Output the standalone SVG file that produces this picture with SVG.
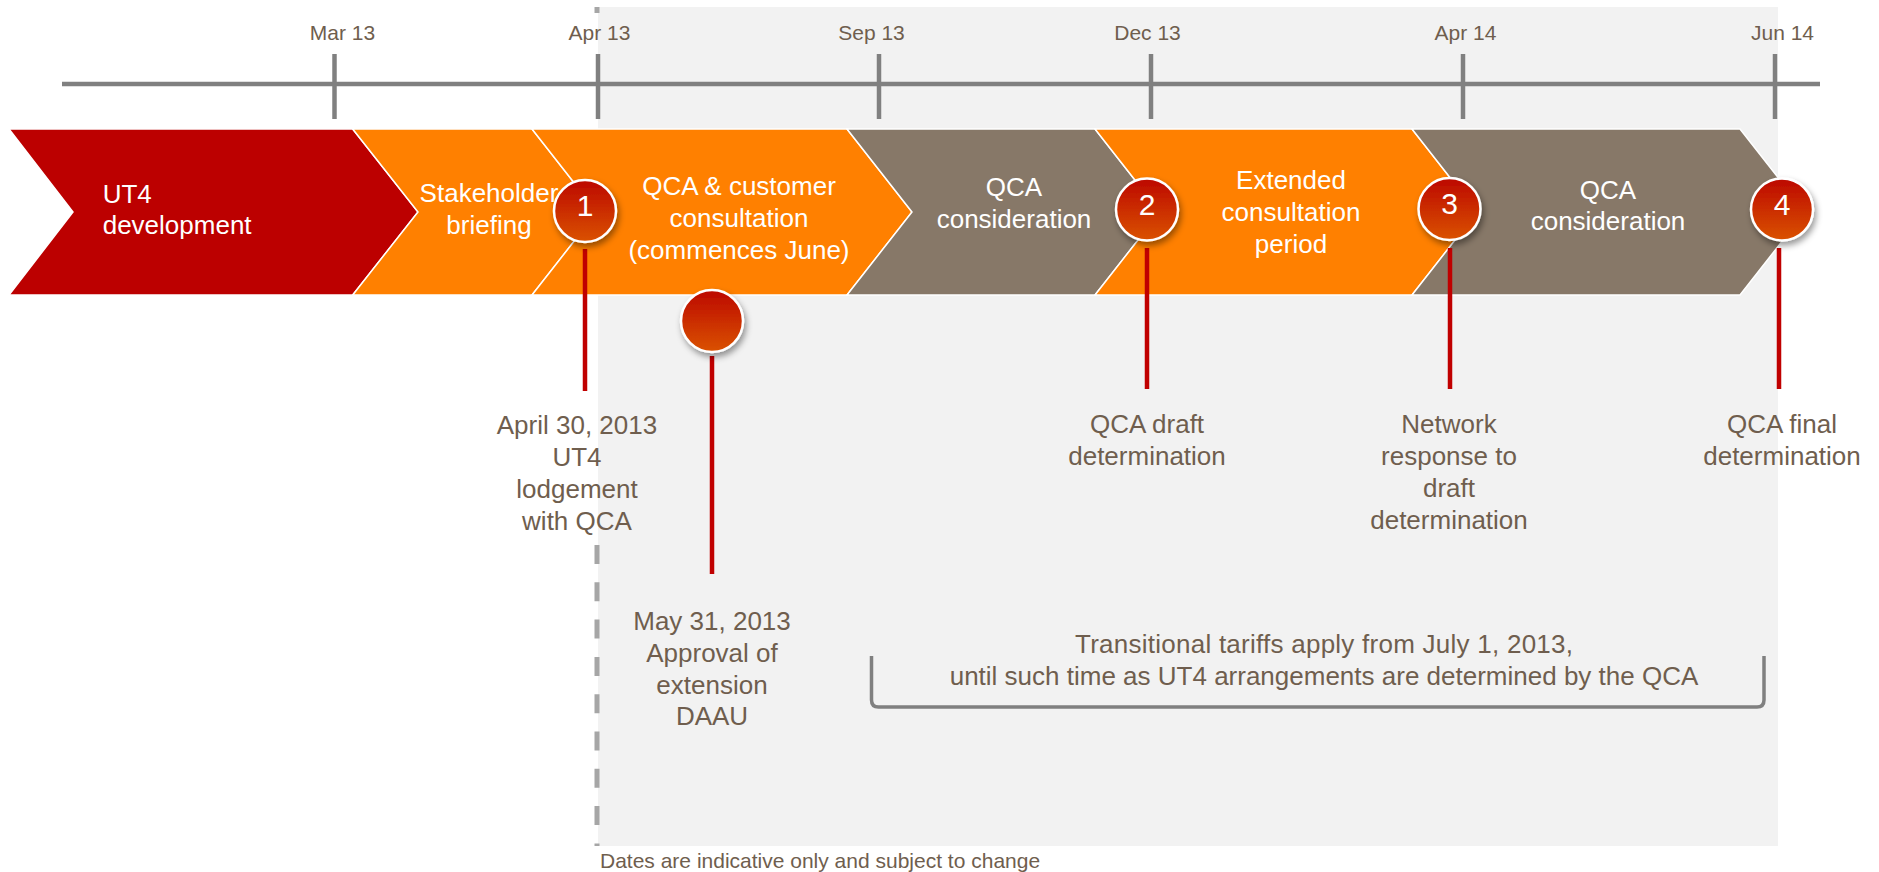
<svg xmlns="http://www.w3.org/2000/svg" width="1879" height="872" viewBox="0 0 1879 872">
<defs>
<linearGradient id="gBall" x1="0" y1="0" x2="0" y2="1">
<stop offset="0" stop-color="#BC0800"/>
<stop offset="1" stop-color="#DA5200"/>
</linearGradient>
<filter id="shadow" x="-40%" y="-40%" width="180%" height="180%">
<feDropShadow dx="2" dy="4" stdDeviation="3" flood-color="#000" flood-opacity="0.4"/>
</filter>
<style>
text{font-family:"Liberation Sans",Arial,sans-serif;}
.tick{stroke:#808080;stroke-width:4.5;}
.tlabel{font-size:21px;fill:#6F5E4E;text-anchor:middle;}
.chev{stroke:#FFFFFF;stroke-width:1.5;}
.red{fill:#BC0000;}
.orange{fill:#FF8000;}
.brown{fill:#877868;}
.ctext{font-size:26px;fill:#FFFFFF;text-anchor:middle;}
.lbl{font-size:26px;fill:#6F5E4E;text-anchor:middle;}
.conn{stroke:#C00000;stroke-width:4.5;fill:none;}
.ball{fill:url(#gBall);stroke:#FFFFFF;stroke-width:2.5;filter:url(#shadow);}
.num{font-size:30px;fill:#FFFFFF;text-anchor:middle;}
</style>
</defs>

<rect id="background" x="598" y="7" width="1180" height="839" fill="#F2F2F2"/>

<g id="divider" stroke="#A6A6A6" stroke-width="5">
<line x1="597" y1="7" x2="597" y2="13"/>
<line x1="597" y1="545" x2="597" y2="846" stroke-dasharray="19 18.3"/>
</g>

<g id="axis">
<line class="tick" x1="62" y1="84" x2="1820" y2="84"/>
<line class="tick" x1="334.5" y1="54" x2="334.5" y2="119"/>
<line class="tick" x1="598" y1="54" x2="598" y2="119"/>
<line class="tick" x1="879" y1="54" x2="879" y2="119"/>
<line class="tick" x1="1151" y1="54" x2="1151" y2="119"/>
<line class="tick" x1="1463" y1="54" x2="1463" y2="119"/>
<line class="tick" x1="1775" y1="54" x2="1775" y2="119"/>
<text class="tlabel" x="342.5" y="40">Mar 13</text>
<text class="tlabel" x="599.5" y="40">Apr 13</text>
<text class="tlabel" x="871.5" y="40">Sep 13</text>
<text class="tlabel" x="1147.5" y="40">Dec 13</text>
<text class="tlabel" x="1465.5" y="40">Apr 14</text>
<text class="tlabel" x="1782.5" y="40">Jun 14</text>
</g>

<g id="phase-ut4">
<polygon class="chev red" points="9,129 352.7,129 418,212 352.7,295 9,295 73,212"/>
<text class="ctext" style="text-anchor:start" x="102.7" y="202.7">UT4</text>
<text class="ctext" style="text-anchor:start" x="102.7" y="234.3">development</text>
</g>
<g id="phase-stakeholder">
<polygon class="chev orange" points="352.7,129 532,129 597,212 532,295 352.7,295 418,212"/>
<text class="ctext" x="489" y="202">Stakeholder</text>
<text class="ctext" x="489" y="234">briefing</text>
</g>
<g id="phase-consultation">
<polygon class="chev orange" points="532,129 847,129 912,212 847,295 532,295 597,212"/>
<text class="ctext" x="739" y="195">QCA &amp; customer</text>
<text class="ctext" x="739" y="227">consultation</text>
<text class="ctext" x="739" y="259">(commences June)</text>
</g>
<g id="phase-qca1">
<polygon class="chev brown" points="847,129 1095,129 1160,212 1095,295 847,295 912,212"/>
<text class="ctext" x="1014" y="196">QCA</text>
<text class="ctext" x="1014" y="227.5">consideration</text>
</g>
<g id="phase-extended">
<polygon class="chev orange" points="1095,129 1412,129 1477,212 1412,295 1095,295 1160,212"/>
<text class="ctext" x="1291" y="189">Extended</text>
<text class="ctext" x="1291" y="221">consultation</text>
<text class="ctext" x="1291" y="253">period</text>
</g>
<g id="phase-qca2">
<polygon class="chev brown" points="1412,129 1740,129 1805,212 1740,295 1412,295 1477,212"/>
<text class="ctext" x="1608" y="199">QCA</text>
<text class="ctext" x="1608" y="230">consideration</text>
</g>

<g id="connectors">
<line class="conn" x1="585" y1="249" x2="585" y2="391"/>
<line class="conn" x1="712" y1="356" x2="712" y2="574"/>
<line class="conn" x1="1147" y1="248" x2="1147" y2="389"/>
<line class="conn" x1="1450" y1="248" x2="1450" y2="389"/>
<line class="conn" x1="1779" y1="248" x2="1779" y2="389"/>
<path d="M871.5,656 V700 Q871.5,707 878.5,707 H1757 Q1764,707 1764,700 V656" fill="none" stroke="#808080" stroke-width="3.5"/>
</g>

<g id="milestone-1">
<circle class="ball" cx="585" cy="211" r="31"/>
<text class="num" x="585" y="216">1</text>
</g>
<g id="milestone-extension">
<circle class="ball" cx="712" cy="321" r="31"/>
</g>
<g id="milestone-2">
<circle class="ball" cx="1147" cy="209.5" r="31"/>
<text class="num" x="1147" y="214.5">2</text>
</g>
<g id="milestone-3">
<circle class="ball" cx="1449.5" cy="209" r="31"/>
<text class="num" x="1449.5" y="214">3</text>
</g>
<g id="milestone-4">
<circle class="ball" cx="1782" cy="209.5" r="31"/>
<text class="num" x="1782" y="214.5">4</text>
</g>

<g id="label-lodgement">
<text class="lbl" x="577" y="434">April 30, 2013</text>
<text class="lbl" x="577" y="466">UT4</text>
<text class="lbl" x="577" y="498">lodgement</text>
<text class="lbl" x="577" y="530">with QCA</text>
</g>
<g id="label-extension">
<text class="lbl" x="712" y="630">May 31, 2013</text>
<text class="lbl" x="712" y="662">Approval of</text>
<text class="lbl" x="712" y="694">extension</text>
<text class="lbl" x="712" y="725">DAAU</text>
</g>
<g id="label-draft">
<text class="lbl" x="1147" y="433">QCA draft</text>
<text class="lbl" x="1147" y="465">determination</text>
</g>
<g id="label-network">
<text class="lbl" x="1449" y="433">Network</text>
<text class="lbl" x="1449" y="465">response to</text>
<text class="lbl" x="1449" y="497">draft</text>
<text class="lbl" x="1449" y="529">determination</text>
</g>
<g id="label-final">
<text class="lbl" x="1782" y="433">QCA final</text>
<text class="lbl" x="1782" y="465">determination</text>
</g>
<g id="label-transitional">
<text class="lbl" x="1324" y="653" textLength="498">Transitional tariffs apply from July 1, 2013,</text>
<text class="lbl" x="1324" y="685">until such time as UT4 arrangements are determined by the QCA</text>
</g>
<text id="footnote" x="600" y="867.5" font-size="21" fill="#6F5E4E">Dates are indicative only and subject to change</text>
</svg>
